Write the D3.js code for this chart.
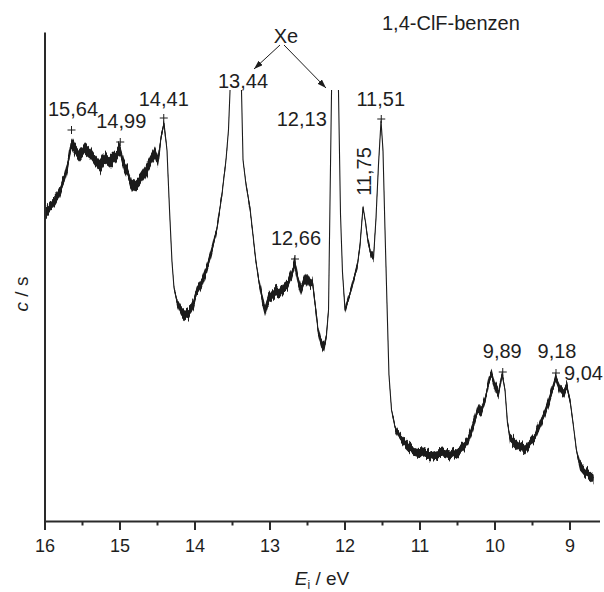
<!DOCTYPE html>
<html>
<head>
<meta charset="utf-8">
<script src="https://cdn.jsdelivr.net/npm/d3@7"></script>
<style>
  body { margin: 0; background: #fff; }
  svg text { font-family: "Liberation Sans", Arial, Helvetica, sans-serif; fill: #1e1e1e; }
</style>
</head>
<body>
<svg id="chart" width="604" height="592"></svg>
<script>
// Photoelectron spectrum of 1,4-chlorofluorobenzene (Xe lines for calibration)
// ionisation energy grid, eV
const energy = [
  16.000, 15.953, 15.900, 15.847, 15.793, 15.740, 15.687, 15.640, 15.593, 15.527,
  15.460, 15.393, 15.327, 15.260, 15.193, 15.127, 15.060, 14.993, 14.940, 14.887,
  14.833, 14.780, 14.727, 14.660, 14.593, 14.527, 14.487, 14.447, 14.407, 14.367,
  14.333, 14.300, 14.273, 14.233, 14.180, 14.127, 14.073, 14.020, 13.967, 13.900,
  13.833, 13.767, 13.700, 13.633, 13.580, 13.547, 13.527, 13.440, 13.373, 13.353,
  13.313, 13.260, 13.220, 13.180, 13.140, 13.100, 13.060, 13.020, 12.967, 12.913,
  12.860, 12.807, 12.753, 12.700, 12.660, 12.620, 12.580, 12.540, 12.500, 12.460,
  12.427, 12.393, 12.353, 12.313, 12.273, 12.240, 12.213, 12.193, 12.173, 12.123,
  12.080, 12.053, 12.027, 11.993, 11.953, 11.913, 11.873, 11.833, 11.793, 11.753,
  11.720, 11.687, 11.647, 11.613, 11.580, 11.547, 11.513, 11.487, 11.460, 11.433,
  11.407, 11.373, 11.327, 11.260, 11.193, 11.127, 11.047, 10.953, 10.860, 10.767,
  10.687, 10.593, 10.500, 10.420, 10.353, 10.300, 10.260, 10.213, 10.173, 10.127,
  10.080, 10.040, 9.993, 9.947, 9.900, 9.860, 9.827, 9.793, 9.727, 9.660,
  9.593, 9.527, 9.460, 9.393, 9.327, 9.260, 9.180, 9.127, 9.080, 9.040,
  8.993, 8.953, 8.907, 8.860, 8.793, 8.727, 8.680
];
// count rate (arbitrary units); the two Xe lines run off scale
const counts = [
  308, 311, 316, 322, 330, 341, 357, 378, 371, 365,
  372, 368, 361, 355, 363, 359, 364, 371, 356, 348,
  334, 337, 341, 349, 359, 368, 360, 383, 398, 371,
  311, 259, 233, 219, 210, 206, 208, 216, 231, 239,
  253, 271, 293, 327, 361, 391, 429, 621, 429, 361,
  336, 313, 286, 259, 239, 223, 211, 221, 226, 230,
  228, 234, 237, 247, 258, 241, 231, 239, 244, 238,
  239, 218, 191, 178, 173, 186, 211, 321, 429, 621,
  429, 306, 249, 211, 221, 231, 243, 253, 276, 314,
  299, 279, 266, 263, 303, 356, 400, 371, 291, 216,
  146, 111, 94, 84, 78, 73, 69, 68, 65, 67,
  68, 66, 69, 74, 81, 91, 101, 114, 111, 121,
  138, 147, 133, 127, 147, 131, 98, 83, 78, 74,
  72, 78, 84, 97, 108, 123, 143, 132, 128, 135,
  121, 98, 71, 55, 49, 46, 43
];
// half-width of the counting noise around the trace
const spread = [
  5, 4.5, 4.5, 4.5, 4.5, 4.5, 4.5, 5, 5, 5,
  5, 5, 5, 5, 5, 5, 5, 5, 5, 5,
  5, 5, 5, 5, 5, 5, 5, 4, 2.5, 1.5,
  1, 1, 1.5, 3, 4.5, 4.5, 4.5, 4.5, 4.5, 4.5,
  4.5, 4, 3, 2.5, 1.5, 1, 0, 0, 0, 1,
  1.5, 2.5, 2.5, 2.5, 3, 4.5, 4.5, 4.5, 4.5, 4.5,
  4.5, 4.5, 4.5, 4.5, 4.5, 4.5, 4.5, 4.5, 4.5, 4.5,
  4, 4, 4, 4.5, 4.5, 3.5, 1.5, 0, 0, 0,
  0, 0, 1, 2.5, 3, 3, 3, 3, 3, 1.5,
  1.5, 3, 3, 3, 1.5, 1, 1, 1, 1, 1,
  1, 1.5, 2.5, 3, 4, 4, 4, 4, 4, 4,
  4, 4, 4, 4, 4, 4, 4, 4, 4, 4,
  4, 4, 4, 4, 2.5, 1.5, 1.5, 4, 4, 4,
  4, 4, 4, 4, 4, 4, 4, 4, 4, 4,
  2.5, 1.5, 1.5, 4, 4, 4, 4
];

// marked band maxima
const peakEnergy = [15.64, 14.99, 14.41, 12.66, 11.51, 9.89, 9.18];
const peakLabel  = ["15,64", "14,99", "14,41", "12,66", "11,51", "9,89", "9,18"];
const peakLevel  = [391, 379, 403, 262, 402, 149, 148];

// assignments without a marker
const noteEnergy = [13.44, 12.13, 11.75, 9.04];
const noteLabel  = ["13,44", "12,13", "11,75", "9,04"];

// xenon calibration lines
const xenonEnergy = [13.44, 12.13];

const majorTicks = [16, 15, 14, 13, 12, 11, 10, 9];
const minorTicks = [15.5, 14.5, 13.5, 12.5, 11.5, 10.5, 9.5];

const title = "1,4-ClF-benzen";

// ---- layout ----
const ink = "#1c1c1c";
const svg = d3.select("#chart");
const x = d3.scaleLinear().domain([16, 8.6]).range([44.5, 599.5]);
const y = d3.scaleLinear().domain([0, 489]).range([521, 32]);

// label placement: [dx from peak position, dy from marker]
const peakLabelShift = {
  "15,64": [1.5, -14], "14,99": [1, -14], "14,41": [0, -12.5], "12,66": [1, -14],
  "11,51": [-0.5, -13.5], "9,89": [-0.5, -13.7], "9,18": [1, -15]
};
// notes: dx from peak position, baseline y, anchor, rotated?
const noteLayout = {
  "13,44": { dx: 6.5, y: 88, anchor: "middle", rot: false },
  "12,13": { dx: -33, y: 126, anchor: "middle", rot: false },
  "11,75": { dx: 8, y: 171.5, anchor: "middle", rot: true },
  "9,04":  { dx: -2.5, y: 380, anchor: "start", rot: false }
};

const defs = svg.append("defs");
defs.append("clipPath").attr("id", "plotClip")
  .append("rect")
  .attr("x", x(16)).attr("y", y(431))
  .attr("width", x(8.6) - x(16)).attr("height", y(0) - y(431));
defs.append("marker")
  .attr("id", "arrowHead")
  .attr("viewBox", "0 0 9 6")
  .attr("refX", 9).attr("refY", 3)
  .attr("markerWidth", 9).attr("markerHeight", 6)
  .attr("markerUnits", "userSpaceOnUse")
  .attr("orient", "auto")
  .append("path").attr("d", "M0,0L9,3L0,6Z").attr("fill", ink);

// ragged edge for the noise band: vertical-only displacement
const grain = defs.append("filter").attr("id", "grain")
  .attr("x", "-2%").attr("y", "-10%").attr("width", "104%").attr("height", "120%")
  .attr("color-interpolation-filters", "sRGB");
grain.append("feTurbulence").attr("type", "fractalNoise")
  .attr("baseFrequency", "0.45 0.03").attr("numOctaves", 2).attr("seed", 7).attr("result", "n");
grain.append("feColorMatrix").attr("in", "n").attr("type", "matrix")
  .attr("values", "0 0 0 0 0.5  0 1 0 0 0  0 0 0 0 0  0 0 0 0 1").attr("result", "map");
grain.append("feDisplacementMap").attr("in", "SourceGraphic").attr("in2", "map")
  .attr("scale", 12).attr("xChannelSelector", "R").attr("yChannelSelector", "G");

// ---- spectrum ----
const trace = energy.map((e, i) => ({ e, c: counts[i], s: spread[i] }));
const bandOf = k => d3.area()
  .x(d => x(d.e))
  .y0(d => y(d.c - k * d.s))
  .y1(d => y(d.c + k * d.s));
const line = d3.line().x(d => x(d.e)).y(d => y(d.c));

const plot = svg.append("g").attr("clip-path", "url(#plotClip)");
// ragged outer band
plot.append("path").datum(trace).attr("d", bandOf(1.15)).attr("fill", ink)
  .attr("filter", "url(#grain)");
// solid core of the band
plot.append("path").datum(trace).attr("d", bandOf(0.7)).attr("fill", ink);
plot.append("path").datum(trace).attr("d", line)
  .attr("fill", "none").attr("stroke", ink)
  .attr("stroke-width", 1.1).attr("stroke-linejoin", "round");

// ---- axes ----
const axisColor = "#2a2a2a";
const gx = svg.append("g").attr("transform", `translate(0,${y(0)})`)
  .call(d3.axisBottom(x).tickValues(majorTicks).tickSize(9).tickSizeOuter(0)
    .tickPadding(9).tickFormat(d3.format("d")));
gx.select(".domain").attr("stroke", axisColor).attr("stroke-width", 2);
gx.selectAll(".tick line").attr("stroke", axisColor).attr("stroke-width", 2);
gx.selectAll(".tick text")
  .attr("font-size", 18)
  .attr("font-family", "Liberation Sans, Arial, sans-serif")
  .attr("fill", "#222");

const gxm = svg.append("g").attr("transform", `translate(0,${y(0)})`)
  .call(d3.axisBottom(x).tickValues(minorTicks).tickSize(4.5).tickSizeOuter(0).tickFormat(""));
gxm.select(".domain").remove();
gxm.selectAll(".tick line").attr("stroke", axisColor).attr("stroke-width", 2);

const gy = svg.append("g").attr("transform", `translate(${x(16)},0)`)
  .call(d3.axisLeft(y).tickValues([]).tickSizeOuter(0));
gy.select(".domain").attr("stroke", axisColor).attr("stroke-width", 2);

// ---- markers and labels ----
const crosses = svg.append("g").attr("stroke", ink).attr("stroke-width", 1);
peakEnergy.forEach((e, i) => {
  const cx = x(e), cy = y(peakLevel[i]);
  crosses.append("line").attr("x1", cx - 4).attr("x2", cx + 4).attr("y1", cy).attr("y2", cy);
  crosses.append("line").attr("x1", cx).attr("x2", cx).attr("y1", cy - 4).attr("y2", cy + 4);
  const [dx, dy] = peakLabelShift[peakLabel[i]];
  svg.append("text")
    .attr("x", cx + dx).attr("y", cy + dy)
    .attr("text-anchor", "middle").attr("font-size", 20)
    .text(peakLabel[i]);
});

noteEnergy.forEach((e, i) => {
  const lay = noteLayout[noteLabel[i]];
  const t = svg.append("text").attr("font-size", 20).attr("text-anchor", lay.anchor).text(noteLabel[i]);
  if (lay.rot) {
    t.attr("transform", `translate(${x(e) + lay.dx},${lay.y}) rotate(-90)`);
  } else {
    t.attr("x", x(e) + lay.dx).attr("y", lay.y);
  }
});

// Xe label with arrows to both calibration lines
svg.append("text").attr("x", 286).attr("y", 43)
  .attr("text-anchor", "middle").attr("font-size", 20).text("Xe");
const arrowEnds = [[x(xenonEnergy[0]) + 17.5, 69, 280], [x(xenonEnergy[1]) - 8.75, 88, 284]];
arrowEnds.forEach(([ex, ey, sx]) => {
  svg.append("line")
    .attr("x1", sx).attr("y1", 45).attr("x2", ex).attr("y2", ey)
    .attr("stroke", ink).attr("stroke-width", 1)
    .attr("marker-end", "url(#arrowHead)");
});

// title
svg.append("text").attr("x", 382).attr("y", 30).attr("font-size", 20).text(title);

// axis titles
const xl = svg.append("text").attr("x", 322).attr("y", 585)
  .attr("text-anchor", "middle").attr("font-size", 19);
xl.append("tspan").attr("font-style", "italic").text("E");
xl.append("tspan").attr("font-size", 12).attr("dy", 4).text("i");
xl.append("tspan").attr("dy", -4).text(" / eV");

const yl = svg.append("text")
  .attr("transform", "translate(28,294) rotate(-90)")
  .attr("text-anchor", "middle").attr("font-size", 19);
yl.append("tspan").attr("font-style", "italic").text("c");
yl.append("tspan").text(" / s");
</script>
</body>
</html>
